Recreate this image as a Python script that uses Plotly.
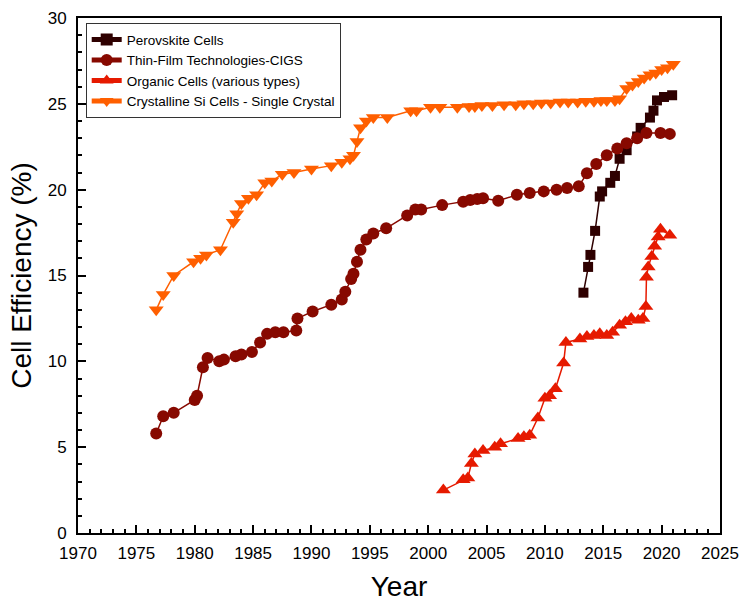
import plotly.graph_objects as go

# Perovskite cells
perov_year = [2013.3, 2013.7, 2013.9, 2014.3, 2014.7, 2014.9, 2015.6, 2016.0, 2016.4, 2017.0,
              2017.9, 2018.2, 2019.0, 2019.3, 2019.6, 2020.2, 2020.9]
perov_eff = [14.0, 15.5, 16.2, 17.6, 19.6, 19.9, 20.4, 20.8, 21.8, 22.3,
             23.1, 23.6, 24.2, 24.6, 25.2, 25.4, 25.5]

# Thin-film CIGS
cigs_year = [1976.7, 1977.3, 1978.2, 1980.0, 1980.2, 1980.7, 1981.1, 1982.1, 1982.5, 1983.5,
             1984.0, 1984.9, 1985.6, 1986.2, 1986.9, 1987.6, 1988.7, 1988.8, 1990.1, 1991.7,
             1992.6, 1992.9, 1993.4, 1993.6, 1993.9, 1994.2, 1994.7, 1995.3, 1996.4, 1998.2,
             1998.9, 1999.4, 2001.2, 2003.0, 2003.6, 2004.2, 2004.7, 2006.0, 2007.6, 2008.7,
             2009.9, 2011.0, 2011.9, 2012.9, 2013.6, 2014.4, 2015.3, 2016.2, 2017.0, 2017.9,
             2018.7, 2019.9, 2020.7]
cigs_eff = [5.8, 6.8, 7.0, 7.75, 8.0, 9.65, 10.2, 10.0, 10.1, 10.3,
            10.4, 10.55, 11.1, 11.6, 11.7, 11.7, 11.8, 12.5, 12.9, 13.3,
            13.6, 14.05, 14.8, 15.1, 15.8, 16.5, 17.1, 17.45, 17.75, 18.5,
            18.85, 18.85, 19.1, 19.3, 19.4, 19.45, 19.5, 19.35, 19.7, 19.8,
            19.9, 20.0, 20.1, 20.2, 20.95, 21.5, 22.0, 22.4, 22.7, 23.0,
            23.3, 23.3, 23.25]

# Organic cells
org_year = [2001.3, 2003.0, 2003.4, 2003.7, 2004.0, 2004.7, 2005.7, 2006.2, 2007.7, 2008.2,
            2008.7, 2009.4, 2010.0, 2010.4, 2010.9, 2011.6, 2011.8, 2013.0, 2013.6, 2014.2,
            2014.7, 2015.3, 2015.8, 2016.4, 2016.9, 2017.4, 2018.0, 2018.4, 2018.65, 2018.7,
            2018.85, 2019.15, 2019.4, 2019.7, 2019.9, 2020.7]
org_eff = [2.5, 3.1, 3.2, 4.05, 4.6, 4.8, 5.0, 5.2, 5.5, 5.6,
           5.7, 6.7, 7.85, 8.0, 8.4, 9.9, 11.1, 11.3, 11.45, 11.5,
           11.6, 11.5, 11.7, 12.1, 12.3, 12.5, 12.4, 12.5, 13.2, 14.9,
           15.5, 16.1, 16.7, 17.25, 17.7, 17.35]

# Crystalline Si, single crystal
si_year = [1976.7, 1977.3, 1978.2, 1979.9, 1980.5, 1981.0, 1982.2, 1983.3, 1983.6, 1984.0,
           1984.6, 1985.3, 1986.0, 1986.6, 1987.5, 1988.5, 1990.0, 1991.7, 1992.6, 1993.3,
           1993.6, 1993.9, 1994.2, 1994.7, 1995.3, 1996.5, 1998.5, 1999.0, 2000.2, 2001.0,
           2002.5, 2003.5, 2004.0, 2004.6, 2005.5, 2006.5, 2007.5, 2008.2, 2009.0, 2009.7,
           2010.5, 2011.3, 2012.0, 2012.8, 2013.5, 2014.2, 2014.8, 2015.3, 2016.0, 2016.4,
           2017.0, 2017.5, 2018.0, 2018.5, 2019.0, 2019.5, 2020.0, 2020.5, 2021.0]
si_eff = [13.0, 13.9, 15.0, 15.8, 16.0, 16.2, 16.5, 18.1, 18.6, 19.2,
          19.5, 19.7, 20.4, 20.5, 20.9, 21.0, 21.2, 21.4, 21.6, 21.8,
          22.0, 22.8, 23.6, 24.0, 24.2, 24.2, 24.6, 24.6, 24.8, 24.8,
          24.8, 24.85, 24.85, 24.9, 24.9, 24.95, 24.95, 25.0, 25.0, 25.05,
          25.05, 25.1, 25.1, 25.1, 25.15, 25.15, 25.2, 25.2, 25.2, 25.3,
          25.9, 26.1, 26.3, 26.5, 26.7, 26.8, 27.0, 27.1, 27.3]

series = [
    ('Perovskite Cells', perov_year, perov_eff, '#2e0000', 'square', 10),
    ('Thin-Film Technologies-CIGS', cigs_year, cigs_eff, '#870900', 'circle', 12),
    ('Organic Cells (various types)', org_year, org_eff, '#e61a00', 'triangle-up', 13),
    ('Crystalline Si Cells - Single Crystal', si_year, si_eff, '#ff5f00', 'triangle-down', 13),
]

fig = go.Figure()
for name, x, y, color, symbol, size in series:
    fig.add_trace(go.Scatter(
        x=x, y=y, mode='lines+markers', name=name,
        line=dict(color=color, width=1.5),
        marker=dict(color=color, symbol=symbol, size=size)
    ))

axis_common = dict(
    showline=True, linecolor='black', linewidth=2, mirror=True,
    ticks='inside', ticklen=8, tickwidth=1.5, tickcolor='black',
    showgrid=False, zeroline=False, automargin=False,
    tickfont=dict(family='Arial', size=17, color='black'),
)

fig.update_layout(
    width=741, height=603,
    margin=dict(l=78, r=21, t=18, b=70),
    plot_bgcolor='white', paper_bgcolor='white',
    font=dict(family='Arial', color='black'),
    xaxis=dict(range=[1970, 2025], dtick=5, tick0=1970, ticklabelstandoff=4,
               minor=dict(dtick=1, ticks='inside', ticklen=4, tickcolor='black'),
               title=dict(text='Year', font=dict(size=28), standoff=14),
               **axis_common),
    yaxis=dict(range=[0, 30], dtick=5, ticklabelstandoff=6,
               minor=dict(dtick=1, ticks='inside', ticklen=4, tickcolor='black'),
               title=dict(text='Cell Efficiency (%)', font=dict(size=28), standoff=8),
               **axis_common),
    legend=dict(x=0.012, y=0.99, xanchor='left', yanchor='top',
                bordercolor='#333333', borderwidth=1, bgcolor='white',
                font=dict(size=13.5), tracegroupgap=0, itemsizing='constant'),
    showlegend=True,
)

# drop the default 8px page margin so the figure fills the window exactly
fig.write_html("out.html", config={'displayModeBar': False},
               post_script="document.body.style.margin='0';")
